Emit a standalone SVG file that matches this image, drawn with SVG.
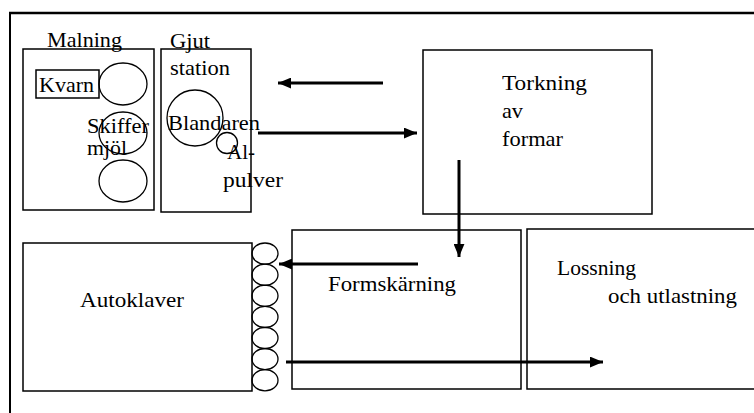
<svg xmlns="http://www.w3.org/2000/svg" width="754" height="413" viewBox="0 0 754 413">
<style>
  .box { fill: none; stroke: #000; stroke-width: 1.5; }
  .circ { fill: none; stroke: #000; stroke-width: 1.3; }
  .t { font-family: 'Liberation Serif', 'DejaVu Serif', 'Times New Roman', Times, serif; font-size: 22px; fill: #000; }
  .arrow { stroke: #000; stroke-width: 3; fill: none; marker-end: url(#ah); }
  .frame { stroke: #000; fill: none; }
</style>
<defs>
  <marker id="ah" viewBox="0 0 12 10" refX="12" refY="5" markerWidth="13" markerHeight="11" markerUnits="userSpaceOnUse" orient="auto">
    <path d="M0,0 L12,5 L0,10 z" fill="#000"/>
  </marker>
</defs>
<rect width="754" height="413" fill="#fff"/>
<g id="frame">
  <line class="frame" x1="9" y1="13" x2="754" y2="13" stroke-width="2.5"/>
  <line class="frame" x1="10" y1="12" x2="10" y2="413" stroke-width="2"/>
</g>
<g id="malning">
  <rect class="box" x="23" y="49" width="131" height="161"/>
  <text class="t" x="47" y="47" textLength="75" lengthAdjust="spacingAndGlyphs">Malning</text>
  <rect class="box" x="36" y="70" width="63" height="28"/>
  <text class="t" x="39" y="92" textLength="55" lengthAdjust="spacingAndGlyphs">Kvarn</text>
  <ellipse class="circ" cx="123" cy="84" rx="24" ry="21"/>
  <ellipse class="circ" cx="123" cy="133" rx="24" ry="21"/>
  <ellipse class="circ" cx="123" cy="181" rx="24" ry="21"/>
  <text class="t" x="87" y="133" textLength="62" lengthAdjust="spacingAndGlyphs">Skiffer</text>
  <text class="t" x="87" y="155" textLength="40" lengthAdjust="spacingAndGlyphs">mjöl</text>
</g>
<g id="gjutstation">
  <rect class="box" x="161" y="49" width="90" height="163"/>
  <text class="t" x="170" y="48" textLength="40" lengthAdjust="spacingAndGlyphs">Gjut</text>
  <text class="t" x="170" y="75" textLength="60" lengthAdjust="spacingAndGlyphs">station</text>
  <ellipse class="circ" cx="195" cy="118" rx="28" ry="28"/>
  <text class="t" x="168" y="130" textLength="92" lengthAdjust="spacingAndGlyphs">Blandaren</text>
  <circle class="circ" cx="227" cy="143" r="10.5"/>
  <text class="t" x="227" y="159" textLength="28" lengthAdjust="spacingAndGlyphs">Al-</text>
  <text class="t" x="223" y="187" textLength="60" lengthAdjust="spacingAndGlyphs">pulver</text>
</g>
<g id="torkning">
  <rect class="box" x="423" y="50" width="229" height="164"/>
  <text class="t" x="502" y="90" textLength="85" lengthAdjust="spacingAndGlyphs">Torkning</text>
  <text class="t" x="502" y="118" textLength="21" lengthAdjust="spacingAndGlyphs">av</text>
  <text class="t" x="502" y="146" textLength="61" lengthAdjust="spacingAndGlyphs">formar</text>
</g>
<g id="autoklaver">
  <rect class="box" x="23" y="243" width="229" height="148"/>
  <text class="t" x="80" y="307" textLength="104" lengthAdjust="spacingAndGlyphs">Autoklaver</text>
  <ellipse class="circ" cx="265" cy="253.6" rx="13" ry="10.6"/>
  <ellipse class="circ" cx="265" cy="274.7" rx="13" ry="10.6"/>
  <ellipse class="circ" cx="265" cy="295.8" rx="13" ry="10.6"/>
  <ellipse class="circ" cx="265" cy="316.9" rx="13" ry="10.6"/>
  <ellipse class="circ" cx="265" cy="338" rx="13" ry="10.6"/>
  <ellipse class="circ" cx="265" cy="359.1" rx="13" ry="10.6"/>
  <ellipse class="circ" cx="265" cy="380.2" rx="13" ry="10.6"/>
</g>
<g id="formskarning">
  <rect class="box" x="292" y="230" width="229" height="159"/>
  <text class="t" x="328" y="291" textLength="128" lengthAdjust="spacingAndGlyphs">Formskärning</text>
</g>
<g id="lossning">
  <path class="box" d="M756,229 L527,229 L527,389 L756,389"/>
  <text class="t" x="557" y="275" textLength="79" lengthAdjust="spacingAndGlyphs">Lossning</text>
  <text class="t" x="608" y="303" textLength="129" lengthAdjust="spacingAndGlyphs">och utlastning</text>
</g>
<g id="connectors">
  <line class="arrow" x1="383" y1="83" x2="278" y2="83"/>
  <line class="arrow" x1="258" y1="133" x2="417" y2="133"/>
  <line class="arrow" x1="459" y1="160" x2="459" y2="257"/>
  <line class="arrow" x1="418" y1="264" x2="279" y2="264"/>
  <line class="arrow" x1="286" y1="362" x2="603" y2="362"/>
</g>
</svg>
